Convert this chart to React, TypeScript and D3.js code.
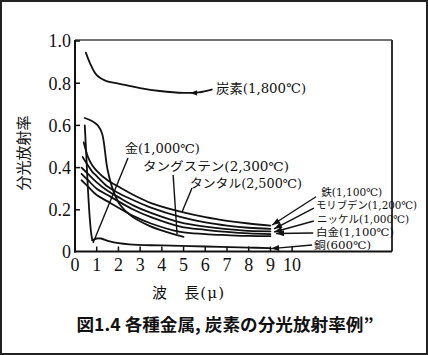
import React from 'react';
import * as d3 from 'd3';

type Pt = [number, number];

// axis ticks
const xTicks = [0, 1, 2, 3, 4, 5, 6, 7, 8, 9, 10];
const yTicks = [0, 0.2, 0.4, 0.6, 0.8, 1.0];
const yTickLabels = ['0', '0.2', '0.4', '0.6', '0.8', '1.0'];

// series (wavelength μ, spectral emissivity)
const carbon: Pt[] = [[0.5, 0.945], [0.7, 0.893], [1.0, 0.838], [1.45, 0.81], [1.9, 0.8], [2.4, 0.79], [3.0, 0.777], [3.9, 0.763], [5.0, 0.754], [5.7, 0.757], [6.3, 0.77]];
const gold: Pt[] = [[0.45, 0.6], [0.52, 0.46], [0.6, 0.29], [0.68, 0.16], [0.75, 0.085], [0.8, 0.055]];
const copper: Pt[] = [[0.8, 0.055], [1.0, 0.064], [1.2, 0.064], [1.6, 0.05], [2.5, 0.036], [4, 0.031], [6, 0.026], [8, 0.021], [8.95, 0.018]];
const tungsten: Pt[] = [[0.45, 0.635], [0.8, 0.62], [1.05, 0.6], [1.25, 0.56], [1.5, 0.39], [1.8, 0.28], [2.1, 0.22], [2.6, 0.17], [3.4, 0.125], [4.2, 0.095], [5.0, 0.072]];
const tantalum: Pt[] = [[0.4, 0.52], [0.6, 0.45], [0.8, 0.41], [1.0, 0.385], [1.5, 0.34], [2.0, 0.31], [2.7, 0.27], [3.5, 0.232], [4.9, 0.19], [6, 0.165], [7, 0.148], [8, 0.135], [9, 0.125]];
const iron: Pt[] = [[0.35, 0.45], [0.6, 0.41], [0.8, 0.38], [1.0, 0.36], [1.5, 0.31], [2.0, 0.28], [2.7, 0.245], [3.5, 0.21], [4.85, 0.166], [6, 0.14], [7, 0.125], [8, 0.115], [9, 0.11]];
const molybdenum: Pt[] = [[0.3, 0.4], [0.6, 0.37], [1.0, 0.33], [1.5, 0.29], [2.0, 0.26], [2.7, 0.22], [3.5, 0.185], [4.85, 0.14], [6, 0.12], [7, 0.108], [8, 0.1], [9, 0.098]];
const nickel: Pt[] = [[0.3, 0.37], [0.6, 0.34], [1.0, 0.3], [1.5, 0.27], [2.0, 0.24], [2.7, 0.2], [3.5, 0.165], [4.85, 0.12], [6, 0.105], [7, 0.095], [8, 0.088], [9, 0.085]];
const platinum: Pt[] = [[0.3, 0.34], [0.6, 0.31], [1.0, 0.27], [1.5, 0.24], [2.0, 0.21], [2.7, 0.17], [3.5, 0.135], [4.85, 0.095], [6, 0.085], [7, 0.08], [8, 0.076], [9, 0.075]];

const seriesList: Pt[][] = [carbon, gold, copper, tungsten, tantalum, iron, molybdenum, nickel, platinum];

// series labels
const seriesLabels = ['炭素(1,800℃)', '金(1,000℃)', 'タングステン(2,300℃)', 'タンタル(2,500℃)', '鉄(1,100℃)', 'モリブデン(1,200℃)', 'ニッケル(1,000℃)', '白金(1,100℃)', '銅(600℃)'];

const yTitle = '分光放射率';
const xTitle = '波　長(μ)';
const figTitle = '図1.4 各種金属, 炭素の分光放射率例”';

type Ann = { x: number; y: number; size: number; width: number; leader?: Pt[]; arrow?: boolean };
const annotations: Ann[] = [
  { x: 6.5, y: 0.777, size: 13, width: 90 },
  { x: 2.3, y: 0.488, size: 12, width: 75, leader: [[2.44, 0.445], [0.83, 0.043]] },
  { x: 3.13, y: 0.403, size: 12, width: 146, leader: [[4.52, 0.365], [4.7, 0.085]] },
  { x: 5.3, y: 0.322, size: 12, width: 112, leader: [[5.39, 0.303], [4.93, 0.19]] },
  { x: 11.34, y: 0.284, size: 10.5, width: 61, leader: [[11.1, 0.262], [9.08, 0.128]], arrow: true },
  { x: 11.1, y: 0.223, size: 10.5, width: 101, leader: [[11.0, 0.208], [9.17, 0.11]], arrow: true },
  { x: 11.15, y: 0.156, size: 10.5, width: 92, leader: [[11.0, 0.147], [9.17, 0.095]], arrow: true },
  { x: 11.1, y: 0.095, size: 10.5, width: 78, leader: [[10.97, 0.09], [9.26, 0.088]], arrow: true },
  { x: 11.01, y: 0.033, size: 10.5, width: 57, leader: [[10.92, 0.033], [9.03, 0.016]], arrow: true },
];
const carbonArrowAt: Pt = [5.3, 0.754];

const serif = "'Liberation Serif', 'DejaVu Serif', serif";
const jp = "'DejaVu Serif', 'Noto Sans CJK JP', sans-serif";
const jpSans = "'Noto Sans CJK JP', sans-serif";

function arrowHead(tip: [number, number], from: [number, number], len = 7, half = 2.6) {
  const dx = tip[0] - from[0], dy = tip[1] - from[1];
  const d = Math.hypot(dx, dy) || 1;
  const ux = dx / d, uy = dy / d;
  const bx = tip[0] - ux * len, by = tip[1] - uy * len;
  return `${tip[0]},${tip[1]} ${bx - uy * half},${by + ux * half} ${bx + uy * half},${by - ux * half}`;
}

export default function App() {
  const W = 428, H = 355;
  const x = d3.scaleLinear().domain([0, 14.6]).range([75, 392]);
  const y = d3.scaleLinear().domain([0, 1]).range([252, 41]);
  const line = d3.line<Pt>().x(d => x(d[0])).y(d => y(d[1])).curve(d3.curveCatmullRom.alpha(0.5));
  const x0 = x(0), x1 = x.range()[1], yb = 251.5, yt = 40;

  const ca: [number, number] = [x(carbonArrowAt[0]), y(carbonArrowAt[1])];

  return (
    <svg width={W} height={H} style={{ position: 'fixed', left: 0, top: 0, background: '#fff' }}>
      <rect x={1} y={1} width={W - 2} height={H - 2} fill="#fff" stroke="#222" strokeWidth={2} />
      {/* frame */}
      <line x1={x0} y1={yt} x2={x1} y2={yt} stroke="#444" strokeWidth={1.5} />
      <line x1={x1} y1={yt} x2={x1} y2={yb} stroke="#333" strokeWidth={2} />
      <line x1={x0} y1={yt} x2={x0} y2={yb + 1} stroke="#111" strokeWidth={2} />
      <line x1={x0 - 1} y1={yb} x2={x1} y2={yb} stroke="#111" strokeWidth={2} />
      {/* y ticks */}
      {yTicks.map((t, i) => (
        <g key={'yt' + i}>
          {t > 0 && <line x1={x0} x2={x0 + 5} y1={y(t)} y2={y(t)} stroke="#111" strokeWidth={1.5} />}
          <text x={71} y={y(t)} dy="0.35em" textAnchor="end" fontFamily={serif} fontSize={18} fill="#111">{yTickLabels[i]}</text>
        </g>
      ))}
      {/* x ticks */}
      {xTicks.map((t, i) => (
        <g key={'xt' + i}>
          {t > 0 && <line x1={x(t)} x2={x(t)} y1={yb} y2={yb - 5} stroke="#111" strokeWidth={1.5} />}
          <text x={x(t)} y={271} textAnchor="middle" fontFamily={serif} fontSize={18} fill="#111">{String(t)}</text>
        </g>
      ))}
      {/* series */}
      {seriesList.map((s, i) => (
        <path key={'s' + i} d={line(s) || ''} fill="none" stroke="#111" strokeWidth={1.8} strokeLinejoin="round" strokeLinecap="round" />
      ))}
      <polygon points={arrowHead(ca, [ca[0] + 10, ca[1]], 7, 2.6)} fill="#111" />
      {/* annotations */}
      {annotations.map((a, i) => {
        const lead = a.leader ? a.leader.map(p => [x(p[0]), y(p[1])] as [number, number]) : null;
        return (
          <g key={'a' + i}>
            {lead && <line x1={lead[0][0]} y1={lead[0][1]} x2={lead[1][0]} y2={lead[1][1]} stroke="#111" strokeWidth={1.4} />}
            {lead && a.arrow && <polygon points={arrowHead(lead[1], lead[0], 8, 3)} fill="#111" />}
            <text x={x(a.x)} y={y(a.y)} dy="0.36em" fontFamily={jp} fontSize={a.size} fill="#111"
              textLength={a.width} lengthAdjust="spacingAndGlyphs">{seriesLabels[i]}</text>
          </g>
        );
      })}
      {/* axis titles */}
      <text transform="translate(29,153) rotate(-90)" textAnchor="middle" fontFamily={jpSans} fontSize={15} fill="#111">{yTitle}</text>
      <text x={152} y={298} fontFamily={jp} fontSize={15} fill="#111" textLength={72} lengthAdjust="spacing">{xTitle}</text>
      <text x={225} y={331} textAnchor="middle" fontFamily={jpSans} fontSize={17} fontWeight="bold" fill="#111" textLength={297} lengthAdjust="spacingAndGlyphs">{figTitle}</text>
    </svg>
  );
}
